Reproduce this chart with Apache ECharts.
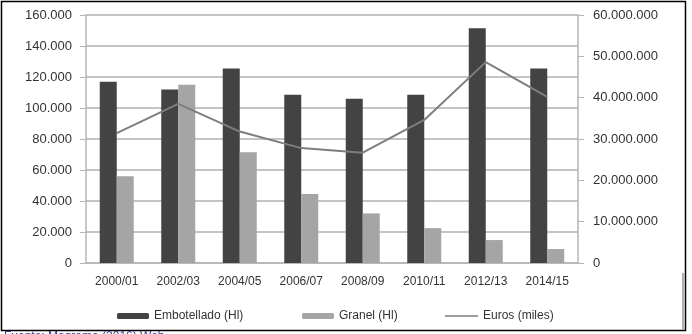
<!DOCTYPE html>
<html>
<head>
<meta charset="utf-8">
<script src="https://cdn.jsdelivr.net/npm/echarts@6/dist/echarts.min.js"></script>
<style>
  html, body { margin: 0; padding: 0; background: #fff; }
  #chart { width: 692px; height: 334px; }
</style>
</head>
<body>
<div id="chart"></div>
<script>
const categories = ["2000/01", "2002/03", "2004/05", "2006/07", "2008/09", "2010/11", "2012/13", "2014/15"];
const embotellado = [117000, 112000, 125500, 108500, 106000, 108500, 151500, 125500];
const granel = [56000, 115000, 71500, 44500, 32000, 22500, 14800, 9000];
const euros = [31400000, 38500000, 31800000, 27800000, 26700000, 34600000, 48600000, 40200000];

const fmt = (v) => String(v).replace(/\B(?=(\d{3})+(?!\d))/g, ".");
const font = "'Liberation Sans', Arial, sans-serif";

const chart = echarts.init(document.getElementById("chart"));

chart.setOption({
    animation: false,
    grid: { left: 86, right: 114, top: 15, bottom: 71 },
    graphic: [
        // outer frame
        { type: "rect", shape: { x: 1.5, y: 1.5, width: 684, height: 329 },
          style: { fill: "none", stroke: "#000", lineWidth: 1.5 } },
        { type: "rect", shape: { x: 682, y: 273, width: 2, height: 57 },
          style: { fill: "#b0b0b0" } },
        { type: "text", left: 4, top: 331,
          style: { text: "Fuente: Magrama (2016) Web", fill: "#3b3b8f", font: "12px " + font } }
    ],
    legend: [
        { data: ["Embotellado (Hl)"], left: 112, top: 305, itemWidth: 32, itemHeight: 6, itemGap: 0,
          textStyle: { fontSize: 12, color: "#333", fontFamily: font } },
        { data: ["Granel (Hl)"], left: 297, top: 305, itemWidth: 32, itemHeight: 6, itemGap: 0,
          textStyle: { fontSize: 12, color: "#333", fontFamily: font } },
        { data: [{ name: "Euros (miles)", icon: "rect" }], left: 440, top: 305, itemWidth: 33, itemHeight: 1.5, itemGap: 0,
          textStyle: { fontSize: 12, color: "#333", fontFamily: font } }
    ],
    xAxis: {
        type: "category",
        data: categories,
        axisLine: { lineStyle: { color: "#b5b5b5", width: 1.5 } },
        axisTick: { length: 5, lineStyle: { color: "#b5b5b5" } },
        axisLabel: { color: "#333", fontSize: 12, fontFamily: font, margin: 13 }
    },
    yAxis: [
        {
            type: "value", min: 0, max: 160000, interval: 20000,
            axisLine: { show: true, lineStyle: { color: "#b5b5b5", width: 1.5 } },
            axisTick: { show: true, length: 6, lineStyle: { color: "#b5b5b5" } },
            splitLine: { lineStyle: { color: "#c4c4c4", width: 1.8 } },
            axisLabel: { color: "#333", fontSize: 13, fontFamily: font, margin: 14, formatter: fmt }
        },
        {
            type: "value", min: 0, max: 60000000, interval: 10000000,
            axisLine: { show: true, lineStyle: { color: "#b5b5b5", width: 1.5 } },
            axisTick: { show: true, length: 6, lineStyle: { color: "#b5b5b5" } },
            splitLine: { show: false },
            axisLabel: { color: "#333", fontSize: 13, fontFamily: font, margin: 15, formatter: fmt }
        }
    ],
    series: [
        { name: "Embotellado (Hl)", type: "bar", data: embotellado, barWidth: 17, barGap: "0%",
          itemStyle: { color: "#434343" } },
        { name: "Granel (Hl)", type: "bar", data: granel, barWidth: 17,
          itemStyle: { color: "#a5a5a5" } },
        { name: "Euros (miles)", type: "line", yAxisIndex: 1, data: euros, symbol: "none",
          lineStyle: { color: "#7e7e7e", width: 2 }, itemStyle: { color: "#7e7e7e" } }
    ]
});
</script>
</body>
</html>
